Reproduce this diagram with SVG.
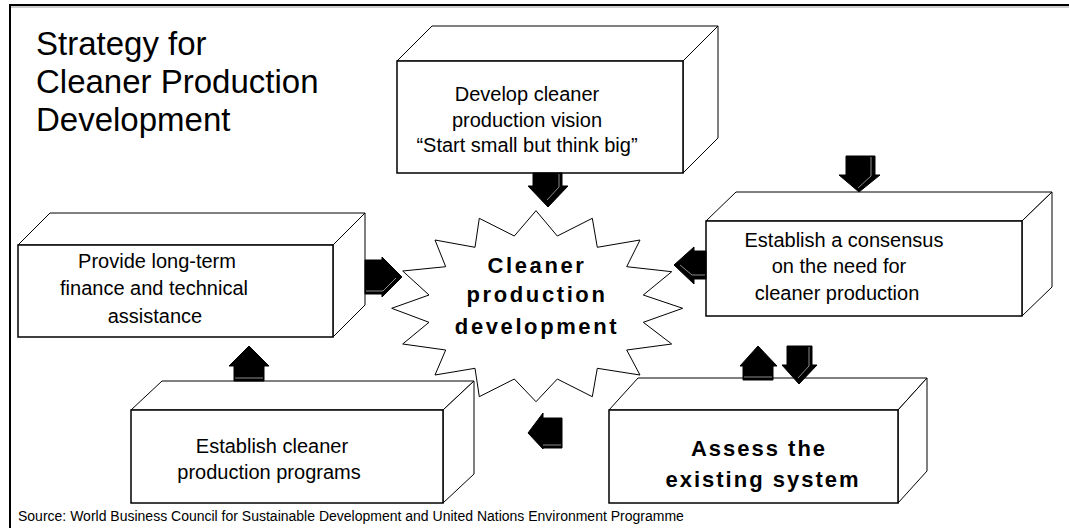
<svg xmlns="http://www.w3.org/2000/svg" width="1069" height="528" viewBox="0 0 1069 528">
  <style>
    .face { fill: #ffffff; stroke: #000000; stroke-width: 1; stroke-linejoin: miter; }
    .front { fill: #ffffff; stroke: #000000; stroke-width: 1.5; }
    .label { font-family: "Liberation Sans", Arial, sans-serif; font-size: 20px; fill: #000000; text-anchor: middle; }
    .bold { font-family: "Liberation Sans", Arial, sans-serif; font-size: 22px; font-weight: bold; fill: #000000; text-anchor: middle; }
    .title { font-family: "Liberation Sans", Arial, sans-serif; font-size: 33px; fill: #000000; }
    .src { font-family: "Liberation Sans", Arial, sans-serif; font-size: 14px; fill: #000000; }
    .arrow { fill: #000000; stroke: #000000; stroke-width: 1; stroke-linejoin: miter; }
    .hl { stroke: #8c8c8c; stroke-width: 1; fill: none; }
  </style>

  <rect width="1069" height="528" fill="#ffffff"/>

  <!-- frame -->
  <g id="frame">
    <line x1="9" y1="5" x2="1069" y2="5" stroke="#000000" stroke-width="2"/>
    <line x1="9" y1="7" x2="1069" y2="7" stroke="#9a9a9a" stroke-width="1"/>
    <line x1="10" y1="4" x2="10" y2="528" stroke="#000000" stroke-width="2"/>
  </g>

  <!-- heading -->
  <g id="title">
    <text class="title" x="36" y="55">Strategy for</text>
    <text class="title" x="36" y="93">Cleaner Production</text>
    <text class="title" x="36" y="131">Development</text>
  </g>

  <!-- central burst -->
  <g id="center">
    <polygon class="face" points="536,210.7 557.3,236 592.3,218.3 597.3,247.3 640,240 626.7,266.7 671.7,271.7 643.3,295 682.7,308.3 643.3,322.3 671.7,344 626.7,350 640,375 597.3,368.3 592.3,396.7 557.3,379 536,401.7 514.3,379 479.3,396.7 475,368.3 435,375 445.7,350 402.7,344 429,322.3 391.7,308.3 429,295 402.7,271 445.7,266.7 435,240 475,247.3 479.3,218.3 514.3,236"/>
    <text class="bold" letter-spacing="2.6" x="537" y="273">Cleaner</text>
    <text class="bold" letter-spacing="2.6" x="537" y="302">production</text>
    <text class="bold" letter-spacing="2.6" x="537" y="334">development</text>
  </g>

  <!-- vision box -->
  <g id="vision">
    <polygon class="face" points="397,61 432,26 718,26 683,61"/>
    <polygon class="face" points="683,61 718,26 718,138 683,173"/>
    <rect class="front" x="397" y="61" width="286" height="112"/>
    <text class="label" x="527" y="101">Develop cleaner</text>
    <text class="label" x="527" y="127">production vision</text>
    <text class="label" x="527" y="152">“Start small but think big”</text>
  </g>

  <!-- consensus box -->
  <g id="consensus">
    <polygon class="face" points="706,221 736,192 1052,192 1022,221"/>
    <polygon class="face" points="1022,221 1052,192 1052,287 1022,316"/>
    <rect class="front" x="706" y="221" width="316" height="95"/>
    <text class="label" x="844" y="247">Establish a consensus</text>
    <text class="label" x="839" y="273">on the need for</text>
    <text class="label" x="837" y="300">cleaner production</text>
  </g>

  <!-- finance box -->
  <g id="finance">
    <polygon class="face" points="18,245 50,213 365,213 333,245"/>
    <polygon class="face" points="333,245 365,213 365,305 333,337"/>
    <rect class="front" x="18" y="245" width="315" height="92"/>
    <text class="label" x="157" y="268">Provide long-term</text>
    <text class="label" x="154" y="295">finance and technical</text>
    <text class="label" x="155" y="323">assistance</text>
  </g>

  <!-- programs box -->
  <g id="programs">
    <polygon class="face" points="131,410 162,381 474,381 443,410"/>
    <polygon class="face" points="443,410 474,381 474,474 443,503"/>
    <rect class="front" x="131" y="410" width="312" height="93"/>
    <text class="label" x="272" y="453">Establish cleaner</text>
    <text class="label" x="269" y="479">production programs</text>
  </g>

  <!-- assessment box -->
  <g id="assess">
    <polygon class="face" points="609,410 638,378 927,378 898,410"/>
    <polygon class="face" points="898,410 927,378 927,471 898,503"/>
    <rect class="front" x="609" y="410" width="289" height="93"/>
    <text class="bold" letter-spacing="2" x="759" y="456">Assess the</text>
    <text class="bold" letter-spacing="2" x="763" y="487">existing system</text>
  </g>

  <!-- block arrows -->
  <g id="connectors">
    <!-- vision -> burst -->
    <polygon class="arrow" points="533,173 562,173 562,186 568,186 548,207 528,186 533,186"/>
    <path class="hl" d="M559,174 V187 L547,200"/>
    <!-- into consensus -->
    <polygon class="arrow" points="846,156 875,156 875,175 880,175 859,192 839,175 846,175"/>
    <path class="hl" d="M871,157 V176 L858,188"/>
    <!-- consensus -> burst -->
    <polygon class="arrow" points="706,251 706,279 694,279 694,284 674,265 694,247 694,251"/>
    <path class="hl" d="M705,275 H692 L680,265"/>
    <!-- finance -> burst -->
    <polygon class="arrow" points="365,260 382,260 382,257 402,277 382,297 382,294 365,294"/>
    <path class="hl" d="M366,291 H383 L396,278"/>
    <!-- programs -> finance -->
    <polygon class="arrow" points="234,381 264,381 264,366 269,366 249,346 229,366 234,366"/>
    <path class="hl" d="M235,378 H263"/>
    <!-- assess -> programs -->
    <polygon class="arrow" points="562,418 562,448 543,448 543,449 528,433 543,413 543,418"/>
    <path class="hl" d="M561,445 H543"/>
    <!-- assess -> consensus -->
    <polygon class="arrow" points="743,380 773,380 773,366 777,366 758,346 740,366 743,366"/>
    <path class="hl" d="M744,377 H772"/>
    <!-- consensus -> assess -->
    <polygon class="arrow" points="787,346 812,346 812,365 817,365 799,384 782,365 787,365"/>
    <path class="hl" d="M809,347 V366 L798,378"/>
  </g>

  <!-- source line -->
  <text class="src" x="18" y="521">Source: World Business Council for Sustainable Development and United Nations Environment Programme</text>
</svg>
